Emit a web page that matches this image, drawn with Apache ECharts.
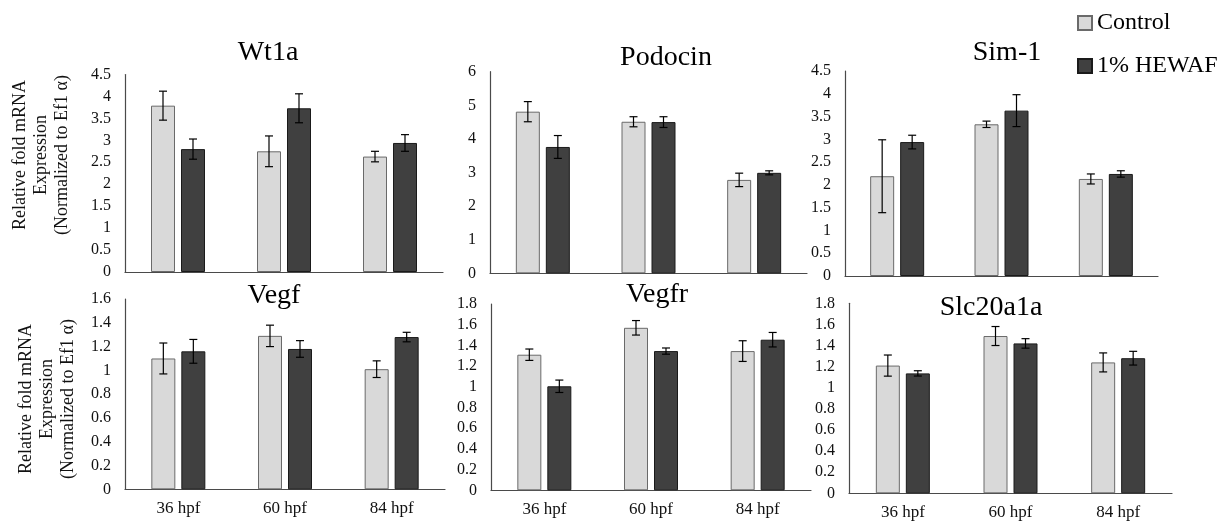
<!DOCTYPE html>
<html>
<head>
<meta charset="utf-8">
<script src="https://cdn.jsdelivr.net/npm/echarts@6/dist/echarts.min.js"></script>
<style>
html,body{margin:0;padding:0;background:#fff;}
#chart{width:1223px;height:522px;}
</style>
</head>
<body>
<div id="chart"></div>
<script>
// ---- data ----
const categories = ['36 hpf', '60 hpf', '84 hpf'];
const genes = ['Wt1a', 'Podocin', 'Sim-1', 'Vegf', 'Vegfr', 'Slc20a1a'];
const seriesNames = ['Control', '1% HEWAF'];
const controlMean = [
  [3.79, 2.75, 2.63],
  [4.81, 4.51, 2.78],
  [2.19, 3.33, 2.13],
  [1.10, 1.29, 1.01],
  [1.31, 1.57, 1.345],
  [1.21, 1.49, 1.24]
];
const controlErr = [
  [0.33, 0.35, 0.12],
  [0.30, 0.15, 0.20],
  [0.80, 0.07, 0.11],
  [0.13, 0.09, 0.07],
  [0.055, 0.07, 0.10],
  [0.10, 0.09, 0.09]
];
const hewafMean = [
  [2.80, 3.73, 2.94],
  [3.76, 4.50, 2.99],
  [2.94, 3.63, 2.24],
  [1.16, 1.18, 1.28],
  [1.005, 1.345, 1.455],
  [1.136, 1.42, 1.28]
];
const hewafErr = [
  [0.23, 0.33, 0.19],
  [0.34, 0.16, 0.06],
  [0.15, 0.35, 0.07],
  [0.10, 0.07, 0.04],
  [0.06, 0.03, 0.07],
  [0.025, 0.045, 0.065]
];
const yMax = [4.5, 6, 4.5, 1.6, 1.8, 1.8];
const yStep = [0.5, 1, 0.5, 0.2, 0.2, 0.2];
const yAxisTitle = 'Relative fold mRNA\nExpression\n(Normalized to Ef1 \u03b1)';

// ---- layout / style ----
const FONT = '"Liberation Serif", "Times New Roman", serif';
const grids = [
  {left: 125, top: 74.5, width: 318, height: 197.5},
  {left: 490, top: 71.7, width: 317, height: 201.6},
  {left: 845, top: 71, width: 313, height: 205},
  {left: 125, top: 299, width: 320, height: 190.3},
  {left: 491, top: 304, width: 320, height: 186.3},
  {left: 849, top: 303.3, width: 323, height: 190}
];
const titlePos = [[268, 53], [666, 58], [1007, 53], [274, 296], [657, 295], [991, 308]];
const BAR_W = 24, BAR_GAP = 6;
const fills = ['#d9d9d9', '#404040'];
const borders = ['#6a6a6a', '#1a1a1a'];

const option = {
  animation: false,
  backgroundColor: '#ffffff',
  title: genes.map((g, i) => ({
    text: g, left: titlePos[i][0], top: titlePos[i][1], padding: 0,
    textAlign: 'center', textVerticalAlign: 'middle',
    textStyle: {fontFamily: FONT, fontSize: 28, fontWeight: 'normal', color: '#000'}
  })),
  legend: {
    data: seriesNames, orient: 'vertical', left: 1077, top: 11, padding: 0,
    itemWidth: 14, itemHeight: 14, itemGap: 19, icon: 'rect',
    textStyle: {fontFamily: FONT, fontSize: 24, lineHeight: 24, color: '#000'}
  },
  grid: grids.map(g => Object.assign({containLabel: false}, g)),
  xAxis: genes.map((g, i) => ({
    type: 'category', gridIndex: i, data: categories,
    axisLine: {lineStyle: {color: '#4a4a4a', width: 1.2}},
    axisTick: {show: false},
    axisLabel: {show: i >= 3, margin: 11, fontFamily: FONT, fontSize: 17, color: '#111'}
  })),
  yAxis: genes.map((g, i) => ({
    type: 'value', gridIndex: i, min: 0, max: yMax[i], interval: yStep[i],
    axisLine: {show: true, lineStyle: {color: '#4a4a4a', width: 1.2}},
    axisTick: {show: false},
    splitLine: {show: false},
    axisLabel: {margin: 14, fontFamily: FONT, fontSize: 16, color: '#111'}
  })),
  graphic: [
    {type: 'text', x: 41, y: 155, rotation: Math.PI / 2,
     style: {text: yAxisTitle, font: '18px ' + FONT, textAlign: 'center', textVerticalAlign: 'middle', align: 'center', verticalAlign: 'middle', lineHeight: 21, fill: '#111'}},
    {type: 'text', x: 47, y: 399, rotation: Math.PI / 2,
     style: {text: yAxisTitle, font: '18px ' + FONT, textAlign: 'center', textVerticalAlign: 'middle', align: 'center', verticalAlign: 'middle', lineHeight: 21, fill: '#111'}}
  ],
  series: []
};

function errSeries(i, means, errs, offset) {
  return {
    type: 'custom', xAxisIndex: i, yAxisIndex: i, z: 5, silent: true,
    data: means.map((m, k) => [k, m, errs[k]]),
    renderItem: function (params, api) {
      const k = api.value(0), v = api.value(1), e = api.value(2);
      const hi = api.coord([k, v + e]);
      const lo = api.coord([k, v - e]);
      const x = hi[0] + offset;
      const cap = 4;
      const st = {stroke: '#000', lineWidth: 1.2};
      return {type: 'group', children: [
        {type: 'line', shape: {x1: x, y1: hi[1], x2: x, y2: lo[1]}, style: st},
        {type: 'line', shape: {x1: x - cap, y1: hi[1], x2: x + cap, y2: hi[1]}, style: st},
        {type: 'line', shape: {x1: x - cap, y1: lo[1], x2: x + cap, y2: lo[1]}, style: st}
      ]};
    }
  };
}

const off = (BAR_W + BAR_GAP) / 2;
genes.forEach((g, i) => {
  option.series.push({
    name: seriesNames[0], type: 'bar', xAxisIndex: i, yAxisIndex: i,
    data: controlMean[i], barWidth: BAR_W, barGap: (BAR_GAP / BAR_W * 100) + '%',
    itemStyle: {color: fills[0], borderColor: borders[0], borderWidth: 1}
  });
  option.series.push({
    name: seriesNames[1], type: 'bar', xAxisIndex: i, yAxisIndex: i,
    data: hewafMean[i], barWidth: BAR_W, barGap: (BAR_GAP / BAR_W * 100) + '%',
    itemStyle: {color: fills[1], borderColor: borders[1], borderWidth: 1}
  });
  option.series.push(errSeries(i, controlMean[i], controlErr[i], -off));
  option.series.push(errSeries(i, hewafMean[i], hewafErr[i], off));
});

const chart = echarts.init(document.getElementById('chart'), null, {renderer: 'canvas'});
chart.setOption(option);
</script>
</body>
</html>
